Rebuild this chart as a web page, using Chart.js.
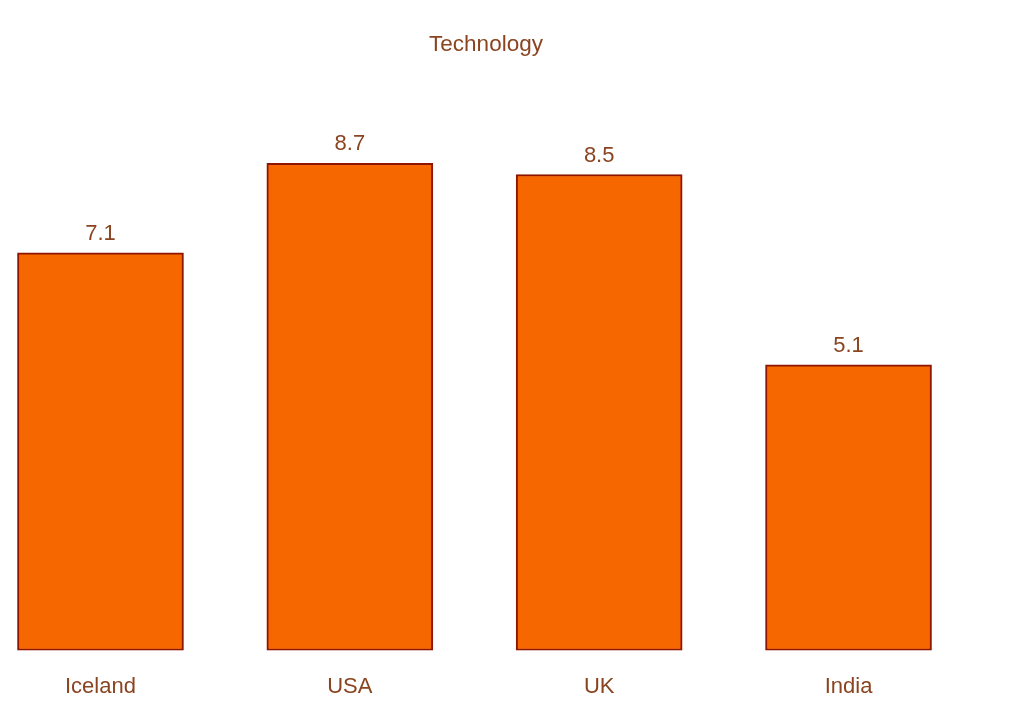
<!DOCTYPE html>
<html>
<head>
<meta charset="utf-8">
<script src="https://cdn.jsdelivr.net/npm/chart.js@4.4.1/dist/chart.umd.min.js"></script>
<style>
  body { margin: 0; background: #ffffff; overflow: hidden; }
  #wrap { position: relative; width: 1010px; height: 708px; overflow: hidden; }
  #chart { position: absolute; left: -30px; top: 0; }
</style>
</head>
<body>
<div id="wrap">
  <canvas id="chart" width="1032" height="708"></canvas>
</div>
<script>
const countries = ['Iceland', 'USA', 'UK', 'India'];
const scores = [7.1, 8.7, 8.5, 5.1];
const chartTitle = 'Technology';

const textColor = '#8a4420';
const fontFamily = '"Liberation Sans", Arial, sans-serif';

// Title centred on the whole canvas, values written above each bar
const barValues = {
    id: 'barValues',
    afterDatasetsDraw(chart) {
        const ctx = chart.ctx;
        const meta = chart.getDatasetMeta(0);
        ctx.save();
        ctx.fillStyle = textColor;
        ctx.textAlign = 'center';
        ctx.textBaseline = 'middle';
        ctx.font = '22.5px ' + fontFamily;
        ctx.fillText(chartTitle, chart.width / 2, 45);
        ctx.font = '22px ' + fontFamily;
        meta.data.forEach((bar, i) => {
            ctx.fillText(scores[i].toFixed(1), bar.x, bar.y - 19);
        });
        ctx.restore();
    }
};

const ctx = document.getElementById('chart').getContext('2d');
const techChart = new Chart(ctx, {
    type: 'bar',
    data: {
        labels: countries,
        datasets: [{
            label: chartTitle,
            data: scores,
            backgroundColor: '#f76700',
            borderColor: '#8e1500',
            borderWidth: 2,
            borderSkipped: false,
            barThickness: 166
        }]
    },
    options: {
        responsive: false,
        animation: false,
        layout: {
            padding: { left: 5.8, right: 28.8, top: 90.5, bottom: 0 }
        },
        plugins: {
            legend: { display: false },
            tooltip: { enabled: false },
            title: { display: false }
        },
        scales: {
            x: {
                grid: { display: false },
                border: { display: false },
                ticks: {
                    color: textColor,
                    padding: 15,
                    font: { family: fontFamily, size: 22 }
                },
                afterFit(scale) { scale.height = 57.5; }
            },
            y: {
                display: false,
                min: 0,
                max: 10
            }
        }
    },
    plugins: [barValues]
});
</script>
</body>
</html>
